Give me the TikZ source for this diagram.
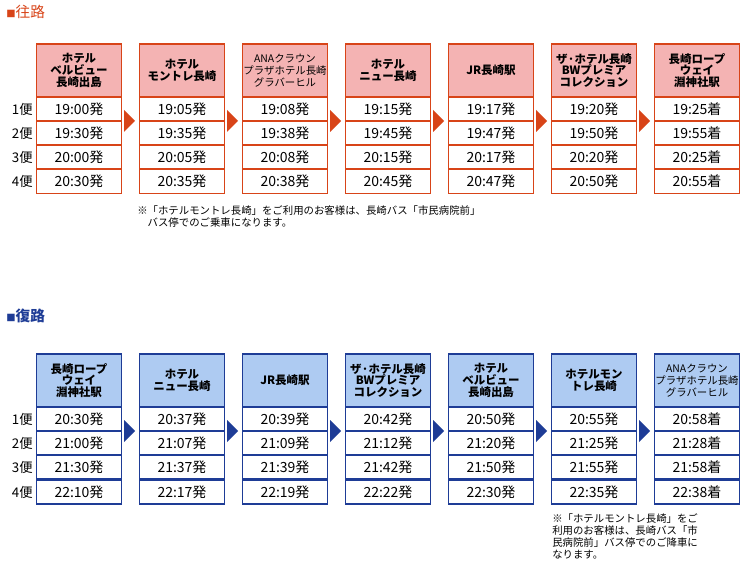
\documentclass[tikz,border=0pt]{standalone}
\usepackage{fontspec}
\setmainfont{Noto Sans CJK JP}
\begin{document}
\begin{tikzpicture}[x=0.75pt,y=-0.75pt,
 hdr/.style={draw=#1,line width=1.2pt,minimum width=64pt,minimum height=39.5pt,inner sep=0pt,align=center,font=\fontsize{8.6}{8.8}\selectfont\bfseries},
 cell/.style={draw=#1,line width=1.2pt,minimum width=64pt,minimum height=18pt,inner sep=0pt,font=\fontsize{10.5}{11}\selectfont},
 lbl/.style={font=\fontsize{10}{11}\selectfont,inner sep=0pt},
 note/.style={font=\fontsize{7.8}{9.2}\selectfont,align=left,inner sep=0pt,anchor=north west}]
\definecolor{rd}{HTML}{D84418}\definecolor{pk}{HTML}{F4B3B3}
\definecolor{bl}{HTML}{1E3C96}\definecolor{lb}{HTML}{AECBF2}
\useasboundingbox (0,0) rectangle (740,574);
\node[anchor=west,text=rd,inner sep=0pt] (t1) at (6,12) {\fontsize{7}{8}\selectfont■\fontsize{11}{12}\selectfont 往路};
\node[anchor=west,text=bl,inner sep=0pt] (t2) at (6,316) {\fontsize{7}{8}\selectfont■\fontsize{11}{12}\selectfont\bfseries 復路};
% outbound
\foreach \i/\h/\a/\b/\c/\d [count=\n] in {
 {ホテル\\ベルビュー\\長崎出島}/19:00発/19:30発/20:00発/20:30発/x,
 {ホテル\\モントレ長崎}/19:05発/19:35発/20:05発/20:35発/x,
 {\fontsize{7.8}{8.8}\selectfont\mdseries ANAクラウン\\\fontsize{7.8}{8.8}\selectfont\mdseries プラザホテル長崎\\\fontsize{7.8}{8.8}\selectfont\mdseries グラバーヒル}/19:08発/19:38発/20:08発/20:38発/x,
 {ホテル\\ニュー長崎}/19:15発/19:45発/20:15発/20:45発/x,
 {JR長崎駅}/19:17発/19:47発/20:17発/20:47発/x,
 {ザ·ホテル長崎\\BWプレミア\\コレクション}/19:20発/19:50発/20:20発/20:50発/x,
 {長崎ロープ\\ウェイ\\淵神社駅}/19:25着/19:55着/20:25着/20:55着/x}{
 \pgfmathsetmacro\cx{79+103*(\n-1)}
 \node[hdr=rd,fill=pk] (oh\n) at (\cx,70.5) {\i};
 \node[cell=rd] (oa\n) at (\cx,109) {\h};
 \node[cell=rd] (ob\n) at (\cx,133) {\a};
 \node[cell=rd] (oc\n) at (\cx,157) {\b};
 \node[cell=rd] (od\n) at (\cx,181.5) {\c};
}
\foreach \n in {1,...,6}{
 \pgfmathsetmacro\ax{124+103*(\n-1)}
 \fill[rd] (\ax,110) -- (\ax+11,121) -- (\ax,132) -- cycle;
}
% return
\foreach \i/\h/\a/\b/\c/\d [count=\n] in {
 {長崎ロープ\\ウェイ\\淵神社駅}/20:30発/21:00発/21:30発/22:10発/x,
 {ホテル\\ニュー長崎}/20:37発/21:07発/21:37発/22:17発/x,
 {JR長崎駅}/20:39発/21:09発/21:39発/22:19発/x,
 {ザ·ホテル長崎\\BWプレミア\\コレクション}/20:42発/21:12発/21:42発/22:22発/x,
 {ホテル\\ベルビュー\\長崎出島}/20:50発/21:20発/21:50発/22:30発/x,
 {ホテルモン\\トレ長崎}/20:55発/21:25発/21:55発/22:35発/x,
 {\fontsize{7.8}{8.8}\selectfont\mdseries ANAクラウン\\\fontsize{7.8}{8.8}\selectfont\mdseries プラザホテル長崎\\\fontsize{7.8}{8.8}\selectfont\mdseries グラバーヒル}/20:58着/21:28着/21:58着/22:38着/x}{
 \pgfmathsetmacro\cx{79+103*(\n-1)}
 \node[hdr=bl,fill=lb] (rh\n) at (\cx,380.5) {\i};
 \node[cell=bl] (ra\n) at (\cx,419) {\h};
 \node[cell=bl] (rb\n) at (\cx,443) {\a};
 \node[cell=bl] (rc\n) at (\cx,467) {\b};
 \node[cell=bl] (rd\n) at (\cx,492) {\c};
}
\foreach \n in {1,...,6}{
 \pgfmathsetmacro\ax{124+103*(\n-1)}
 \fill[bl] (\ax,420) -- (\ax+11,431) -- (\ax,442) -- cycle;
}
% row labels
\foreach \y/\t [count=\k] in {109/1便,133/2便,157/3便,181.5/4便}{
 \node[lbl,anchor=east] (ol\k) at (33,\y) {\t};}
\foreach \y/\t [count=\k] in {419/1便,443/2便,467/3便,492/4便}{
 \node[lbl,anchor=east] (rl\k) at (33,\y) {\t};}
\node[note] (n1) at (137,205) {※「ホテルモントレ長崎」をご利用のお客様は、長崎バス「市民病院前」\\\hspace*{1em}バス停でのご乗車になります。};
\node[note] (n2) at (552,513) {※「ホテルモントレ長崎」をご\\利用のお客様は、長崎バス「市\\民病院前」バス停でのご降車に\\なります。};
\end{tikzpicture}
\end{document}
